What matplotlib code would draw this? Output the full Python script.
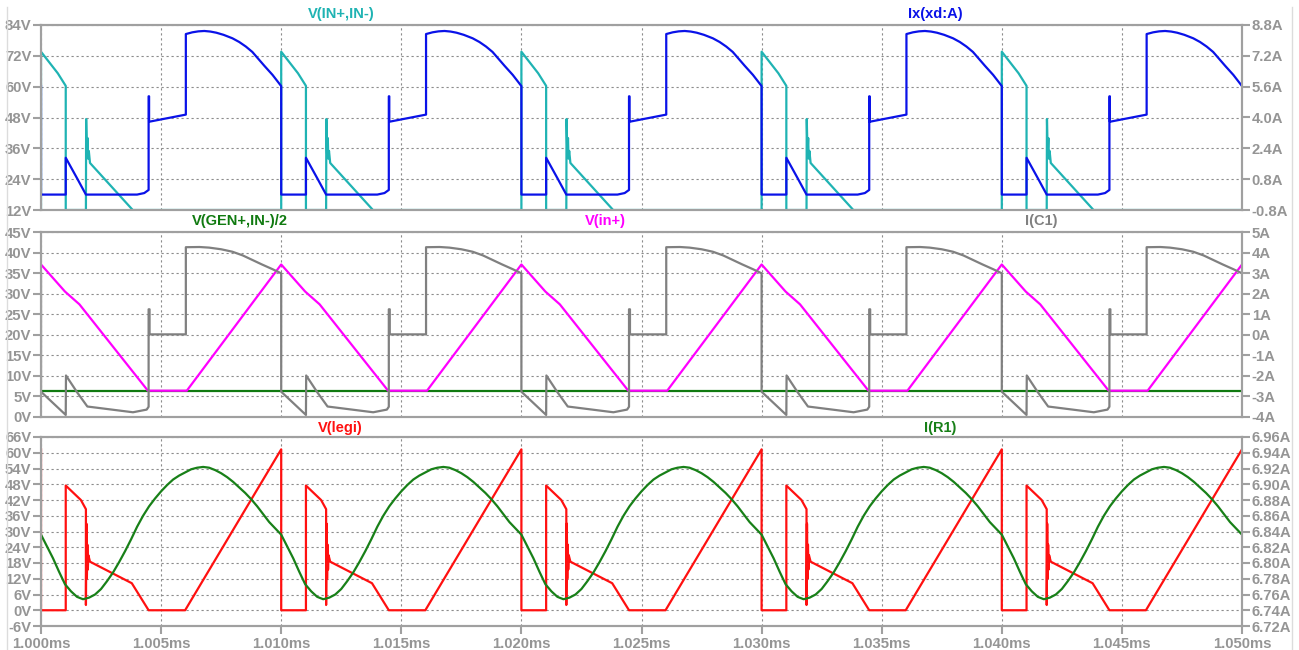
import numpy as np
import matplotlib
matplotlib.use("Agg")
import matplotlib.pyplot as plt
from matplotlib.lines import Line2D

plt.rcParams['font.family'] = ['Liberation Sans', 'DejaVu Sans']

# one switching period (10 us), time in us from the start of the window
PERIOD = 10.0
N_PERIODS = 5

# pane 1: V(IN+,IN-) [V], left axis
vin_t = [0, 0, 0.7, 1.03, 1.03, 1.87, 1.88, 1.91, 1.94, 1.96, 1.99, 2.04, 3.82, 10]
vin_v = [12, 73.6, 65.2, 60.3, 12, 12, 47.4, 34, 40, 32, 35, 30.3, 12, 12]

# pane 1: Ix(xd:A) [A], right axis
ix_t = [0, 0, 1.03, 1.03, 1.5, 1.87, 4.0, 4.3, 4.48, 4.48, 4.5, 4.5,
        6.03, 6.03, 6.3, 6.55, 6.8, 7.05, 7.3, 7.6, 7.97, 8.25, 8.53, 8.8,
        9.01, 9.3, 9.64, 10]
ix_a = [5.63, 0.0, 0.0, 1.91, 0.85, 0.0, 0.0, 0.08, 0.24, 5.1, 5.1, 3.78,
        4.15, 8.33, 8.42, 8.47, 8.49, 8.46, 8.40, 8.29, 8.11, 7.92, 7.68, 7.40,
        7.10, 6.68, 6.21, 5.63]

# pane 2: V(GEN+,IN-)/2 [V]
vgen_t = [0, 50]
vgen_v = [6.4, 6.4]

# pane 2: V(in+) [V]
vinp_t = [0, 1.0, 1.6, 4.45, 6.07, 10]
vinp_v = [37.1, 30.5, 27.4, 6.4, 6.4, 37.1]

# pane 2: I(C1) [A], right axis
ic1_t = [0, 0, 1.03, 1.04, 1.51, 1.93, 3.83, 4.40, 4.48, 4.48, 4.52, 4.52,
         6.03, 6.03, 6.6, 7.0, 7.5, 7.97, 8.4, 8.8, 9.2, 9.64, 10]
ic1_a = [2.99, -2.77, -3.9, -1.98, -2.81, -3.49, -3.77, -3.64, -3.5, 1.24, 1.24, 0.02,
         0.02, 4.26, 4.27, 4.24, 4.16, 4.04, 3.86, 3.64, 3.42, 3.19, 2.99]

# pane 3: V(legi) [V]
vlegi_t = [0, 0, 1.03, 1.03, 1.66, 1.87, 1.87, 1.89, 1.91, 1.93, 1.95, 1.97, 2.04,
           3.78, 4.48, 6.0, 10]
vlegi_v = [61.3, 0, 0, 47.5, 42.0, 38.5, 2.0, 33.0, 12.0, 25.0, 15.5, 21.0, 18.5,
           10.3, 0, 0, 61.3]

# pane 3: I(R1) [A], right axis
ir1_t = [0, 0.25, 0.5, 0.75, 1.0, 1.25, 1.5, 1.75, 2.0, 2.25, 2.5, 2.75,
         3.0, 3.25, 3.5, 3.75, 4.0, 4.25, 4.5, 4.75, 5.0, 5.25, 5.5, 5.75,
         6.0, 6.25, 6.5, 6.75, 7.0, 7.25, 7.5, 7.75, 8.0, 8.25, 8.5, 8.75,
         9.0, 9.25, 9.5, 9.75, 10]
ir1_a = [6.836, 6.821, 6.806, 6.789, 6.773, 6.764, 6.757, 6.754, 6.756, 6.760, 6.767, 6.777,
         6.788, 6.801, 6.815, 6.830, 6.846, 6.860, 6.872, 6.882, 6.891, 6.899, 6.906, 6.911,
         6.915, 6.919, 6.921, 6.922, 6.921, 6.918, 6.914, 6.909, 6.903, 6.896, 6.889, 6.881,
         6.872, 6.862, 6.852, 6.844, 6.836]

x_ticks = [0, 5, 10, 15, 20, 25, 30, 35, 40, 45, 50]
x_labels = ['1.000ms', '1.005ms', '1.010ms', '1.015ms', '1.020ms', '1.025ms',
            '1.030ms', '1.035ms', '1.040ms', '1.045ms', '1.050ms']

p1_left = [12, 24, 36, 48, 60, 72, 84]
p1_left_lbl = ['12V', '24V', '36V', '48V', '60V', '72V', '84V']
p1_right = [-0.8, 0.8, 2.4, 4.0, 5.6, 7.2, 8.8]
p1_right_lbl = ['-0.8A', '0.8A', '2.4A', '4.0A', '5.6A', '7.2A', '8.8A']

p2_left = [0, 5, 10, 15, 20, 25, 30, 35, 40, 45]
p2_left_lbl = ['0V', '5V', '10V', '15V', '20V', '25V', '30V', '35V', '40V', '45V']
p2_right = [-4, -3, -2, -1, 0, 1, 2, 3, 4, 5]
p2_right_lbl = ['-4A', '-3A', '-2A', '-1A', '0A', '1A', '2A', '3A', '4A', '5A']

p3_left = [-6, 0, 6, 12, 18, 24, 30, 36, 42, 48, 54, 60, 66]
p3_left_lbl = ['-6V', '0V', '6V', '12V', '18V', '24V', '30V', '36V', '42V', '48V', '54V', '60V', '66V']
p3_right = [6.72, 6.74, 6.76, 6.78, 6.80, 6.82, 6.84, 6.86, 6.88, 6.90, 6.92, 6.94, 6.96]
p3_right_lbl = ['6.72A', '6.74A', '6.76A', '6.78A', '6.80A', '6.82A', '6.84A', '6.86A',
                '6.88A', '6.90A', '6.92A', '6.94A', '6.96A']

FRAME = '#a0a0a0'
TICKTXT = '#959595'
GRID = '#8c8c8c'
LW = 1.6
TICKSIZE = 10.7


def tile(t, v):
    tt = np.concatenate([np.asarray(t, float) + k * PERIOD for k in range(N_PERIODS)])
    vv = np.tile(np.asarray(v, float), N_PERIODS)
    return tt, vv


def style(ax, ticks, labels, side):
    ax.set_yticks(ticks)
    ax.set_yticklabels(labels)
    ax.set_ylim(ticks[0], ticks[-1])
    ax.tick_params(axis='y', direction='out', length=6, width=1.5, color=FRAME,
                   labelcolor=TICKTXT, labelsize=TICKSIZE, pad=1,
                   left=(side == 'left'), labelleft=(side == 'left'),
                   right=(side == 'right'), labelright=(side == 'right'))
    for lbl in ax.get_yticklabels():
        lbl.set_fontweight('bold')
    for sp in ax.spines.values():
        sp.set_color(FRAME)
        sp.set_linewidth(1.5)


W, H = 1299, 650
fig = plt.figure(figsize=(W / 100, H / 100), dpi=100)
fig.patch.set_facecolor('white')

x0, x1 = 41, 1242
panes = [(25, 210), (232, 417), (437, 626)]
axes = []
for top, bot in panes:
    ax = fig.add_axes([x0 / W, 1 - bot / H, (x1 - x0) / W, (bot - top) / H])
    ax.set_xlim(0, 50)
    ax.set_xticks(x_ticks)
    ax.grid(True, color=GRID, linestyle=(0, (2, 2.5)), linewidth=0.8)
    ax.set_axisbelow(True)
    axes.append(ax)

ax1, ax2, ax3 = axes
for ax in (ax1, ax2):
    ax.tick_params(axis='x', bottom=False, labelbottom=False)
ax3.set_xticklabels(x_labels)
ax3.tick_params(axis='x', direction='out', length=6, width=1.5, color=FRAME,
                labelcolor=TICKTXT, labelsize=TICKSIZE, pad=2)
for lbl in ax3.get_xticklabels():
    lbl.set_fontweight('bold')

# pane 1
t, v = tile(vin_t, vin_v)
ax1.plot(t, v, color='#1fb3b3', lw=LW)
style(ax1, p1_left, p1_left_lbl, 'left')
ax1r = ax1.twinx()
t, v = tile(ix_t, ix_a)
ax1r.plot(t, v, color='#0a12e8', lw=LW)
style(ax1r, p1_right, p1_right_lbl, 'right')

# pane 2
ax2.plot(vgen_t, vgen_v, color='#107a10', lw=LW)
t, v = tile(vinp_t, vinp_v)
ax2.plot(t, v, color='#ff00ff', lw=LW)
style(ax2, p2_left, p2_left_lbl, 'left')
ax2r = ax2.twinx()
t, v = tile(ic1_t, ic1_a)
ax2r.plot(t, v, color='#808080', lw=LW)
style(ax2r, p2_right, p2_right_lbl, 'right')

# pane 3
t, v = tile(vlegi_t, vlegi_v)
ax3.plot(t, v, color='#ff1010', lw=LW)
style(ax3, p3_left, p3_left_lbl, 'left')
ax3r = ax3.twinx()
t, v = tile(ir1_t, ir1_a)
ax3r.plot(t, v, color='#188018', lw=LW)
style(ax3r, p3_right, p3_right_lbl, 'right')

for ax in (ax1r, ax2r, ax3r):
    ax.set_xlim(0, 50)

# trace names above each pane
names = [
    ('V(IN+,IN-)', 341, 14, '#1fb3b3'),
    ('Ix(xd:A)', 935, 14, '#0a12e8'),
    ('V(GEN+,IN-)/2', 240, 221, '#107a10'),
    ('V(in+)', 605, 221, '#ff00ff'),
    ('I(C1)', 1041, 221, '#808080'),
    ('V(legi)', 340, 428, '#ff1010'),
    ('I(R1)', 940, 428, '#188018'),
]
for txt, px, py, col in names:
    fig.text(px / W, 1 - py / H, txt, color=col, fontsize=10.5, fontweight='bold',
             ha='center', va='center')

# window edges
for px in (7, 1292):
    fig.add_artist(Line2D([px / W, px / W], [0, 1 - 7 / H], color='#dcdcdc', lw=1))

fig.savefig('out.png', dpi=100, facecolor='white')
